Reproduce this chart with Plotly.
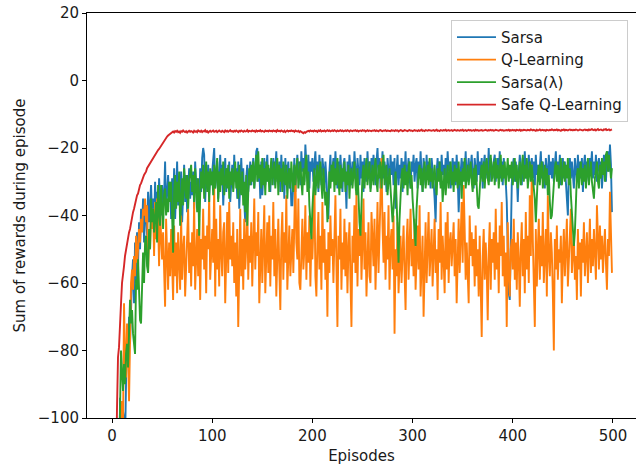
import plotly.graph_objects as go

# ---------------- data ----------------
series_names = ["Sarsa", "Q-Learning", "Sarsa(λ)", "Safe Q-Learning"]
series_colors = ["#1f77b4", "#ff7f0e", "#2ca02c", "#d62728"]
x_ticks = [0, 100, 200, 300, 400, 500]
y_ticks = [-100, -80, -60, -40, -20, 0, 20]

sarsa = [
    -320, -290, -260, -230, -200, -180, -160, -140, -94, -120, -105, -98, -100, -108, -90, -76, -84, -70, -78, -64,
    -58, -53, -66, -48, -60, -45, -55, -42, -50, -38, -44, -35, -48, -40, -37, -46, -33, -42, -38, -31,
    -40, -35, -44, -30, -38, -33, -42, -29, -36, -40, -31, -37, -34, -24, -39, -32, -28, -36, -30, -41,
    -29, -38, -26, -41, -31, -24, -37, -30, -34, -27, -42, -32, -25, -36, -28, -39, -31, -26, -35, -30,
    -34, -27, -38, -24, -31, -29, -36, -39, -26, -33, -23, -20, -22, -36, -27, -32, -25, -34, -28, -31,
    -27, -23, -20, -32, -28, -24, -35, -29, -22, -31, -25, -37, -28, -23, -33, -26, -31, -24, -36, -28,
    -25, -32, -22, -30, -26, -35, -24, -38, -28, -23, -31, -26, -36, -42, -29, -25, -33, -27, -24, -31,
    -26, -23, -32, -28, -21, -20, -30, -25, -35, -24, -34, -28, -23, -31, -25, -22, -30, -26, -33, -24,
    -29, -23, -31, -25, -21, -30, -26, -24, -33, -22, -29, -25, -35, -23, -30, -26, -24, -32, -28, -37,
    -37, -30, -23, -33, -26, -22, -29, -24, -31, -21, -27, -23, -30, -19, -25, -29, -22, -32, -24, -27,
    -23, -30, -25, -21, -29, -24, -33, -22, -27, -31, -23, -26, -32, -24, -29, -35, -41, -27, -22, -30,
    -25, -23, -29, -21, -27, -32, -24, -30, -22, -28, -33, -25, -23, -29, -38, -24, -30, -22, -27, -31,
    -24, -29, -21, -26, -32, -23, -28, -31, -22, -29, -24, -33, -23, -26, -30, -21, -28, -24, -32, -23,
    -29, -22, -26, -31, -24, -20, -28, -23, -32, -25, -21, -29, -24, -27, -33, -23, -26, -30, -22, -28,
    -24, -31, -23, -38, -27, -22, -31, -25, -29, -23, -33, -24, -28, -21, -30, -25, -23, -29, -32, -24,
    -27, -22, -30, -25, -23, -32, -24, -29, -21, -28, -33, -23, -26, -31, -22, -29, -24, -27, -32, -23,
    -26, -30, -35, -42, -27, -23, -29, -24, -31, -22, -28, -25, -30, -23, -29, -21, -27, -24, -32, -25,
    -23, -29, -24, -31, -22, -28, -39, -31, -25, -23, -29, -24, -28, -21, -30, -25, -23, -29, -24, -22,
    -28, -32, -23, -26, -30, -21, -28, -24, -29, -23, -32, -25, -22, -29, -24, -28, -20, -30, -23, -26,
    -29, -24, -22, -30, -25, -23, -28, -21, -29, -24, -31, -23, -27, -30, -36, -48, -63, -65, -45, -31,
    -25, -23, -30, -24, -28, -36, -27, -22, -26, -31, -23, -28, -21, -29, -24, -30, -22, -28, -25, -23,
    -29, -24, -31, -22, -28, -25, -30, -23, -21, -29, -24, -28, -32, -23, -26, -30, -22, -28, -24, -29,
    -23, -30, -25, -21, -29, -24, -28, -22, -31, -25, -23, -29, -24, -30, -37, -40, -26, -23, -29, -24,
    -28, -32, -23, -26, -30, -22, -28, -24, -29, -23, -33, -25, -22, -29, -24, -28, -30, -23, -26, -21,
    -29, -24, -28, -22, -30, -25, -23, -29, -24, -32, -27, -22, -26, -30, -23, -21, -27, -19, -25, -39,
]

q_learning = [
    -300, -270, -240, -210, -190, -170, -150, -130, -115, -100, -95, -104, -66, -82, -88, -72, -80, -95, -68, -60,
    -56, -62, -52, -58, -46, -54, -50, -44, -48, -41, -45, -38, -40, -35, -42, -37, -57, -46, -50, -40,
    -44, -38, -52, -36, -47, -35, -42, -55, -39, -48, -53, -45, -60, -67, -41, -50, -62, -48, -58, -44,
    -52, -65, -43, -58, -48, -63, -45, -56, -62, -40, -59, -50, -46, -64, -53, -44, -38, -57, -48, -61,
    -45, -55, -36, -62, -51, -44, -58, -41, -65, -47, -53, -38, -56, -46, -63, -43, -50, -34, -59, -48,
    -44, -54, -31, -64, -41, -56, -47, -61, -37, -51, -58, -45, -42, -66, -50, -39, -57, -36, -53, -46,
    -55, -42, -60, -48, -64, -44, -73, -52, -38, -58, -47, -62, -41, -56, -49, -36, -59, -46, -54, -42,
    -61, -48, -35, -56, -45, -52, -39, -66, -53, -44, -60, -47, -37, -63, -50, -42, -57, -40, -61, -46,
    -53, -36, -58, -44, -64, -50, -41, -56, -68, -47, -39, -59, -45, -54, -34, -62, -48, -43, -58, -51,
    -44, -57, -38, -27, -48, -53, -35, -60, -62, -46, -41, -56, -50, -37, -59, -45, -54, -40, -61, -47,
    -53, -43, -30, -58, -64, -48, -39, -56, -46, -62, -36, -54, -44, -59, -50, -70, -45, -57, -40, -52,
    -47, -60, -42, -34, -55, -73, -46, -53, -38, -62, -48, -56, -41, -58, -45, -63, -50, -42, -59, -73,
    -46, -54, -37, -57, -33, -61, -44, -52, -40, -59, -48, -35, -56, -45, -64, -50, -42, -58, -60, -39,
    -47, -55, -41, -62, -50, -36, -57, -45, -30, -23, -43, -54, -39, -59, -46, -53, -37, -62, -48, -44,
    -56, -40, -75, -50, -58, -42, -63, -53, -46, -60, -51, -43, -57, -68, -48, -41, -59, -45, -38, -55,
    -47, -58, -41, -62, -50, -43, -56, -37, -64, -52, -46, -70, -55, -42, -60, -48, -39, -58, -51, -44,
    -61, -47, -41, -57, -50, -65, -44, -54, -36, -59, -46, -53, -63, -42, -56, -39, -60, -48, -45, -55,
    -50, -42, -58, -47, -66, -52, -41, -57, -46, -36, -54, -31, -44, -59, -48, -56, -66, -40, -52, -45,
    -55, -47, -61, -43, -58, -50, -64, -46, -60, -76, -52, -44, -59, -48, -56, -71, -51, -42, -62, -47,
    -54, -45, -59, -38, -56, -48, -63, -43, -52, -36, -58, -46, -61, -51, -73, -42, -57, -64, -50, -47,
    -56, -41, -59, -48, -62, -45, -53, -67, -50, -42, -58, -47, -63, -39, -56, -46, -60, -34, -52, -25,
    -47, -57, -73, -44, -61, -50, -41, -59, -46, -55, -39, -60, -48, -44, -64, -34, -52, -58, -45, -51,
    -63, -80, -47, -56, -43, -59, -50, -54, -46, -66, -52, -44, -58, -48, -41, -61, -51, -45, -38, -57,
    -50, -46, -59, -52, -65, -44, -56, -48, -64, -47, -54, -42, -58, -50, -45, -60, -52, -41, -57, -47,
    -55, -44, -51, -59, -37, -49, -56, -43, -53, -46, -57, -50, -44, -54, -62, -47, -52, -33, -43, -57,
]

sarsa_lambda = [
    -400, -350, -300, -250, -200, -160, -130, -110, -98, -80, -86, -92, -84, -90, -81, -78, -85, -70, -65, -72,
    -68, -75, -78, -81, -59, -62, -53, -66, -71, -72, -58, -51, -60, -48, -46, -55, -57, -44, -50, -35,
    -42, -38, -45, -41, -36, -48, -31, -39, -43, -31, -37, -44, -34, -32, -40, -35, -39, -30, -36, -30,
    -40, -51, -33, -28, -38, -30, -36, -27, -43, -32, -29, -37, -26, -31, -35, -28, -38, -30, -27, -25,
    -33, -28, -36, -26, -32, -39, -29, -46, -34, -27, -32, -25, -35, -28, -24, -33, -27, -36, -26, -31,
    -27, -34, -25, -32, -28, -23, -36, -27, -33, -26, -31, -24, -34, -28, -26, -32, -25, -35, -27, -31,
    -26, -33, -28, -24, -32, -27, -35, -25, -31, -34, -27, -37, -30, -39, -28, -43, -33, -26, -31, -25,
    -30, -24, -32, -26, -22, -30, -21, -29, -25, -32, -23, -31, -26, -34, -24, -30, -25, -33, -27, -23,
    -31, -26, -24, -32, -27, -23, -34, -25, -30, -26, -33, -24, -29, -31, -25, -35, -28, -26, -32, -24,
    -29, -33, -25, -31, -26, -23, -32, -27, -24, -30, -34, -26, -31, -25, -22, -33, -27, -37, -41, -47,
    -38, -31, -26, -34, -28, -25, -32, -27, -24, -31, -35, -26, -30, -37, -33, -42, -36, -27, -32, -25,
    -30, -24, -33, -26, -31, -23, -29, -34, -25, -32, -26, -30, -24, -33, -27, -31, -25, -35, -28, -26,
    -32, -27, -24, -31, -34, -26, -38, -42, -46, -36, -28, -25, -32, -27, -23, -31, -26, -24, -33, -27,
    -25, -31, -26, -23, -30, -33, -25, -29, -24, -32, -26, -22, -31, -27, -25, -34, -28, -26, -32, -36,
    -42, -38, -31, -27, -35, -47, -54, -41, -33, -28, -26, -32, -25, -31, -27, -34, -26, -24, -32, -28,
    -35, -40, -44, -49, -38, -32, -27, -25, -31, -26, -33, -28, -24, -32, -27, -25, -31, -23, -30, -26,
    -32, -27, -25, -31, -34, -26, -30, -24, -32, -27, -36, -31, -26, -34, -28, -25, -32, -27, -24, -31,
    -27, -33, -25, -30, -26, -32, -24, -31, -27, -35, -26, -30, -23, -32, -27, -25, -31, -26, -24, -30,
    -33, -26, -31, -25, -34, -37, -38, -32, -27, -25, -30, -24, -32, -26, -23, -29, -31, -25, -22, -30,
    -26, -24, -31, -23, -29, -25, -32, -26, -22, -30, -25, -29, -24, -31, -26, -23, -30, -25, -29, -24,
    -31, -26, -23, -30, -25, -32, -27, -24, -31, -26, -22, -30, -25, -29, -23, -32, -26, -24, -30, -25,
    -29, -32, -35, -42, -34, -28, -25, -31, -26, -24, -32, -27, -25, -31, -26, -34, -28, -36, -41, -40,
    -35, -31, -26, -24, -30, -25, -32, -27, -23, -31, -26, -24, -30, -25, -29, -23, -31, -26, -34, -38,
    -44, -49, -45, -35, -28, -26, -32, -27, -24, -31, -26, -30, -25, -32, -27, -23, -31, -26, -24, -30,
    -33, -35, -29, -26, -24, -30, -32, -25, -29, -23, -28, -24, -30, -22, -21, -27, -22, -25, -29, -26,
]

safe_q_learning = [
    -240, -200, -170, -140, -118, -97, -82, -79, -70, -66, -60, -56, -55, -52, -50, -49, -47, -45, -44, -42,
    -41, -39, -38, -36.5, -35.5, -34, -33.5, -32, -31, -30.5, -29.5, -29, -28, -27.5, -27, -26, -25.5, -25, -24.5, -24,
    -23.5, -23, -22.3, -22, -21.5, -21, -20.6, -20.3, -19.8, -19.2, -18.8, -18.3, -17.9, -17.4, -17, -16.6, -16.3, -16, -15.8, -15.5,
    -15.3, -15.1, -15.4, -15.0, -15.2, -14.9, -15.3, -15.1, -15.5, -15.0, -15.2, -14.8, -15.1, -15.3, -15.0, -15.4, -15.1, -14.9, -15.2, -15.0,
    -15.1, -15.4, -14.9, -15.2, -15.0, -15.3, -14.8, -15.1, -15.2, -14.9, -15.3, -15.0, -15.1, -14.7, -15.2, -15.0, -15.4, -15.1, -14.9, -15.2,
    -15.0, -14.8, -15.2, -15.1, -14.9, -15.3, -15.0, -14.8, -15.1, -15.2, -14.9, -15.0, -15.3, -14.8, -15.1, -14.9, -15.2, -15.0, -14.7, -15.1,
    -15.0, -15.2, -14.9, -15.1, -14.8, -15.0, -15.3, -14.9, -15.1, -14.8, -15.0, -15.2, -14.9, -15.1, -15.0, -14.7, -15.2, -14.9, -15.0, -15.1,
    -14.8, -15.0, -14.9, -15.2, -14.8, -15.1, -14.9, -15.0, -14.7, -15.1, -14.9, -15.0, -15.2, -14.8, -15.0, -14.9, -15.1, -14.8, -15.0, -14.9,
    -15.1, -14.8, -15.0, -14.9, -15.2, -14.7, -15.0, -14.9, -15.1, -14.8, -15.0, -15.2, -14.9, -15.3, -15.0, -14.8, -15.1, -14.9, -15.0, -14.8,
    -15.0, -14.9, -15.2, -14.8, -15.0, -15.1, -14.9, -15.3, -15.0, -15.2, -15.4, -15.6, -15.3, -15.5, -15.2, -15.0, -14.9, -15.1, -14.8, -15.0,
    -14.9, -15.1, -14.8, -15.0, -14.9, -15.2, -14.8, -15.0, -14.7, -15.1, -14.9, -15.0, -14.8, -15.1, -14.9, -14.7, -15.0, -14.8, -15.1, -14.9,
    -14.8, -15.0, -14.7, -14.9, -15.1, -14.8, -15.0, -14.9, -14.7, -15.0, -14.8, -15.1, -14.9, -14.8, -15.0, -14.7, -14.9, -15.1, -14.8, -14.9,
    -15.0, -14.8, -14.9, -14.7, -15.0, -14.8, -15.1, -14.9, -14.8, -15.0, -14.7, -14.9, -14.8, -15.1, -14.9, -14.7, -15.0, -14.8, -14.9, -15.0,
    -14.8, -14.9, -14.7, -15.0, -14.8, -14.9, -15.1, -14.8, -14.7, -14.9, -15.0, -14.8, -14.9, -14.7, -15.0, -14.8, -14.9, -14.8, -15.0, -14.7,
    -14.9, -14.8, -15.0, -14.7, -14.9, -14.8, -15.1, -14.9, -14.7, -14.8, -15.0, -14.9, -14.7, -14.8, -14.9, -15.0, -14.8, -14.7, -14.9, -14.8,
    -15.0, -14.8, -14.7, -14.9, -14.8, -15.0, -14.7, -14.9, -14.8, -14.6, -14.9, -14.8, -15.0, -14.7, -14.8, -14.9, -14.7, -14.8, -15.0, -14.9,
    -14.8, -14.7, -14.9, -14.8, -14.6, -14.9, -14.8, -15.0, -14.7, -14.8, -14.9, -14.7, -14.8, -14.6, -14.9, -14.8, -14.7, -14.9, -14.8, -14.7,
    -14.9, -14.8, -14.6, -14.8, -14.9, -14.7, -14.8, -14.9, -14.7, -14.8, -14.6, -14.9, -14.8, -14.7, -14.9, -14.8, -14.6, -14.8, -14.7, -14.9,
    -14.8, -14.7, -14.9, -14.6, -14.8, -14.7, -14.9, -14.8, -14.6, -14.7, -14.9, -14.8, -14.7, -14.6, -14.8, -14.9, -14.7, -14.8, -14.6, -14.8,
    -14.7, -14.9, -14.8, -14.6, -14.7, -14.8, -14.9, -14.7, -14.6, -14.8, -14.7, -14.9, -14.8, -14.6, -14.7, -14.8, -14.6, -14.9, -14.7, -14.8,
    -14.6, -14.8, -14.7, -14.9, -14.6, -14.7, -14.8, -14.6, -14.9, -14.7, -14.8, -14.6, -14.7, -14.9, -14.8, -14.6, -14.7, -14.8, -14.5, -14.7,
    -14.8, -14.6, -14.7, -14.9, -14.6, -14.8, -14.7, -14.5, -14.8, -14.7, -14.6, -14.8, -14.7, -14.9, -14.6, -14.7, -14.8, -14.6, -14.7, -14.5,
    -14.7, -14.8, -14.6, -14.7, -14.5, -14.8, -14.6, -14.7, -14.9, -14.6, -14.7, -14.5, -14.8, -14.6, -14.7, -14.8, -14.6, -14.5, -14.7, -14.6,
    -14.8, -14.6, -14.7, -14.5, -14.6, -14.8, -14.7, -14.5, -14.6, -14.7, -14.8, -14.6, -14.5, -14.7, -14.6, -14.8, -14.5, -14.7, -14.6, -14.4,
    -14.6, -14.7, -14.5, -14.8, -14.6, -14.4, -14.7, -14.6, -14.5, -14.7, -14.8, -14.5, -14.6, -14.4, -14.7, -14.6, -14.5, -14.8, -14.6, -14.5,
]

all_series = [sarsa, q_learning, sarsa_lambda, safe_q_learning]
for name, s in zip(series_names, all_series):
    assert len(s) == 500, (name, len(s))

# ---------------- figure ----------------
FONT = "DejaVu Sans"
TXT = "#1a1a1a"
fig = go.Figure()
for name, color, values in zip(series_names, series_colors, all_series):
    fig.add_trace(go.Scatter(
        x=list(range(len(values))), y=values, mode="lines", name=name,
        line=dict(color=color, width=1.9),
    ))

axis_common = dict(
    showline=True, linecolor="black", linewidth=1, mirror=True,
    ticks="outside", ticklen=4, tickwidth=1, tickcolor="black",
    showgrid=False, zeroline=False, automargin=False,
    ticklabeloverflow="allow",
    tickfont=dict(family=FONT, size=15, color=TXT),
)

fig.update_layout(
    width=636, height=468,
    margin=dict(l=87, r=0, t=13, b=50),
    paper_bgcolor="white", plot_bgcolor="white",
    font=dict(family=FONT, size=15, color=TXT),
    xaxis=dict(range=[-24.95, 523.0], tickvals=x_ticks,
               title=dict(text="Episodes", font=dict(family=FONT, size=15, color=TXT), standoff=6),
               **axis_common),
    yaxis=dict(range=[-100, 20], tickvals=y_ticks,
               title=dict(text="Sum of rewards during episode", font=dict(family=FONT, size=15, color=TXT), standoff=8),
               **axis_common),
    legend=dict(x=0.663, y=0.983, xanchor="left", yanchor="top",
                bgcolor="rgba(255,255,255,0.8)", bordercolor="#cccccc", borderwidth=1,
                font=dict(family=FONT, size=15, color=TXT), tracegroupgap=0,
                itemwidth=39),
    showlegend=True,
)

# remove the page's default 8px body margin so the figure sits at (0, 0)
fig.write_html("out.html", config={"displayModeBar": False},
               post_script="document.body.style.margin='0';")
